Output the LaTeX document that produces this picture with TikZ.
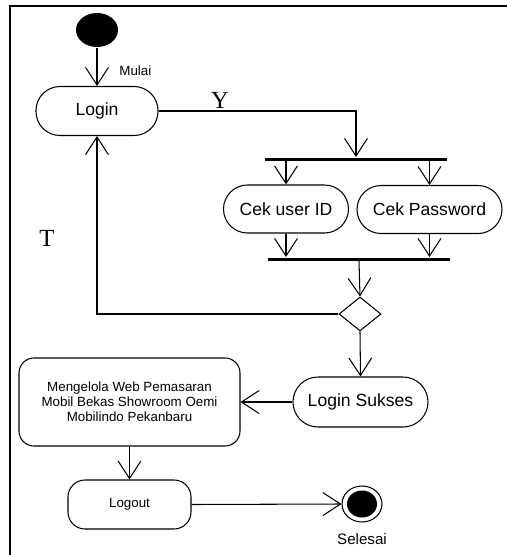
\documentclass[tikz,border=0pt]{standalone}
\usepackage{fontspec}
\setmainfont{Liberation Sans}
\newfontfamily\serif{Liberation Serif}
\usetikzlibrary{arrows.meta,shapes.geometric}

\begin{document}
\begin{tikzpicture}[line width=0.6pt,
  arr/.style={-{Straight Barb[length=10pt,width=13pt,line width=0.6pt]}},
  act/.style={draw, rectangle, rounded corners=0.48cm, minimum height=0.98cm, font=\fontsize{10}{12}\selectfont},
  bar/.style={fill, rectangle, inner sep=0pt, minimum height=0.06cm},
  small/.style={font=\fontsize{7.6}{8}\selectfont}]
\useasboundingbox (0,0) rectangle (10.14,-11.1);
% frame
\draw (0.2,-11.1) -- (0.2,-0.12) -- (10.14,-0.12);

\node[ellipse, fill, inner sep=0pt, minimum width=0.84cm, minimum height=0.68cm] (start) at (1.94,-0.6) {};
\node[act, minimum width=2.44cm] (login) at (1.94,-2.22) {Login};
\node[small, right] (mulai) at (2.26,-1.42) {Mulai};
\node[font=\serif\fontsize{14}{14}\selectfont] (ya) at (4.4,-2.0) {Y};
\node[font=\serif\fontsize{14}{14}\selectfont] (tidak) at (0.94,-4.76) {T};

\node[bar, minimum width=3.64cm] (fork) at (7.12,-3.18) {};
\node[act, minimum width=2.5cm, minimum height=0.96cm] (cekid) at (5.72,-4.18) {Cek user ID};
\node[act, minimum width=2.9cm, minimum height=0.96cm] (cekpass) at (8.59,-4.19) {Cek Password};
\node[bar, minimum width=3.64cm] (join) at (7.18,-5.18) {};
\node[diamond, draw, inner sep=0pt, minimum width=0.84cm, minimum height=0.68cm] (cek) at (7.2,-6.28) {};

\node[act, minimum width=2.7cm, minimum height=1cm, rounded corners=0.5cm] (sukses) at (7.21,-8.04) {Login Sukses};
\node[draw, rectangle, rounded corners=0.3cm, minimum width=4.42cm, minimum height=1.76cm, align=center, font=\fontsize{7.6}{8.6}\selectfont] (kelola) at (2.59,-8.04) {Mengelola Web Pemasaran\\Mobil Bekas Showroom Oemi\\Mobilindo Pekanbaru};
\node[draw, rectangle, rounded corners=0.34cm, minimum width=2.46cm, minimum height=0.98cm, small] (logout) at (2.59,-10.09) {Logout};
\node[draw, ellipse, inner sep=0pt, minimum width=0.8cm, minimum height=0.72cm] (selesai) at (7.24,-10.08) {};
\fill (selesai.center) ellipse (0.3cm and 0.27cm);
\node[font=\fontsize{8.6}{10}\selectfont] (lblselesai) at (7.24,-10.78) {Selesai};

\draw[arr] (start) -- (login);
\draw[arr] (login.east) -| (fork.north);
\draw[arr] (fork.south -| cekid.north) -- (cekid.north);
\draw[arr] (fork.south -| cekpass.north) -- (cekpass.north);
\draw[arr] (cekid.south) -- (join.north -| cekid.south);
\draw[arr] (cekpass.south) -- (join.north -| cekpass.south);
\draw[arr] (join.south) -- (cek.north);
\draw[arr] (cek.west) -| (login.south);
\draw[arr] (cek.south) -- (sukses.north);
\draw[arr] (sukses.west) -- (kelola.east);
\draw[arr] (kelola.south) -- (logout.north);
\draw[arr] (logout.east) -- (selesai.west);
\end{tikzpicture}
\end{document}
